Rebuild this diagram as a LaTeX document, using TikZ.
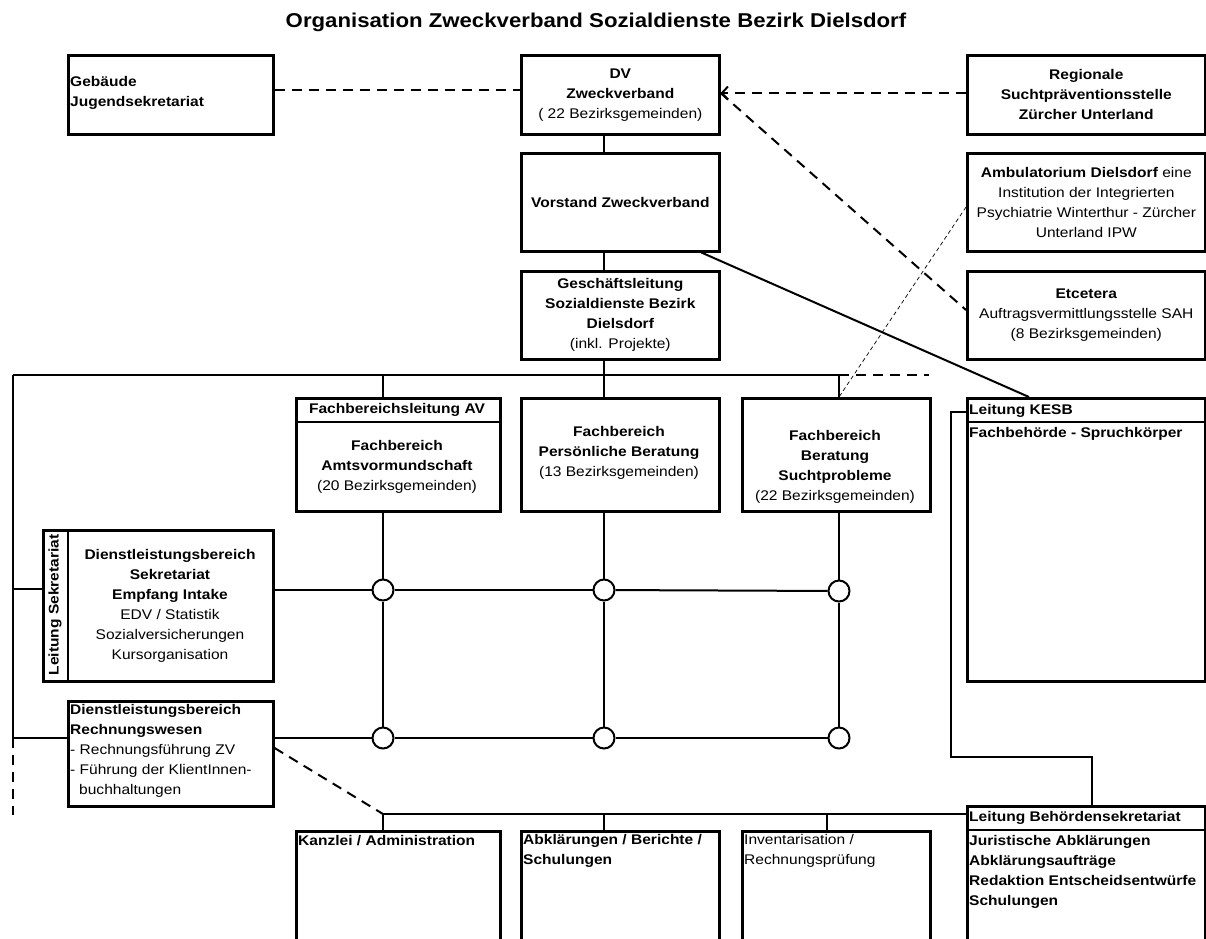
\documentclass[tikz,border=0pt]{standalone}
\usepackage{fontspec}
\setmainfont{Liberation Sans}[FakeStretch=1.11]
\usetikzlibrary{arrows.meta,calc}
\begin{document}
\begin{tikzpicture}[x=1pt,y=-1pt,
  every node/.style={font=\fontsize{14}{20}\selectfont, inner sep=0pt},
  bf/.style={font=\fontsize{14}{20}\selectfont\bfseries},
  box/.style={draw, line width=2.6pt, anchor=north west, inner sep=0pt, align=center},
  sep/.style={line width=2.6pt},
  ln/.style={line width=2pt},
  dsh/.style={line width=2pt, dash pattern=on 10pt off 7pt},
  thindsh/.style={line width=0.7pt, dash pattern=on 4pt off 3pt},
  junc/.style={circle, draw, fill=white, line width=2pt, minimum size=21pt, inner sep=0pt},
  ltxt/.style={align=left, anchor=west},
]
\useasboundingbox (0,0) rectangle (1206,938);
\clip (0,0) rectangle (1206,938);

% title
\node[font=\fontsize{20}{24}\selectfont\bfseries] (title) at (596,22) {Organisation Zweckverband Sozialdienste Bezirk Dielsdorf};

% top boxes
\node[box, minimum width=205pt, minimum height=79pt] (geb) at (67,54) {};
\node[ltxt, bf] (gebT) at (70,93) {Gebäude\\Jugendsekretariat};

\node[box, minimum width=198pt, minimum height=79pt] (dv) at (520,54)
  {\textbf{DV}\\\textbf{Zweckverband}\\( 22 Bezirksgemeinden)};
\node[box, minimum width=198pt, minimum height=98pt] (vst) at (520,152)
  {\textbf{Vorstand Zweckverband}};
\node[box, minimum width=198pt, minimum height=88pt] (gl) at (520,270)
  {\textbf{Geschäftsleitung}\\\textbf{Sozialdienste Bezirk}\\\textbf{Dielsdorf}\\(inkl. Projekte)};

\node[box, minimum width=238pt, minimum height=79pt] (reg) at (966,54)
  {\textbf{Regionale}\\\textbf{Suchtpräventionsstelle}\\\textbf{Zürcher Unterland}};
\node[box, minimum width=238pt, minimum height=98pt] (amb) at (966,152)
  {\textbf{Ambulatorium Dielsdorf} eine\\Institution der Integrierten\\Psychiatrie Winterthur - Zürcher\\Unterland IPW};
\node[box, minimum width=238pt, minimum height=88pt] (etc) at (966,270)
  {\textbf{Etcetera}\\Auftragsvermittlungsstelle SAH\\(8 Bezirksgemeinden)};

% Fachbereiche
\node[box, minimum width=204pt, minimum height=113pt] (fav) at (295,397) {};
\draw[sep] (fav.west |- 0,422) -- (fav.east |- 0,422);
\node[bf] (favH) at (397,410) {Fachbereichsleitung AV};
\node[align=center] (favT) at (397,467) {\textbf{Fachbereich}\\\textbf{Amtsvormundschaft}\\(20 Bezirksgemeinden)};

\node[box, minimum width=198pt, minimum height=113pt] (pb) at (520,397) {};
\node[align=center] (pbT) at (619,453) {\textbf{Fachbereich}\\\textbf{Persönliche Beratung}\\(13 Bezirksgemeinden)};

\node[box, minimum width=188pt, minimum height=113pt] (su) at (741,397) {};
\node[align=center] (suT) at (835,467) {\textbf{Fachbereich}\\\textbf{Beratung}\\\textbf{Suchtprobleme}\\(22 Bezirksgemeinden)};

% KESB
\node[box, minimum width=238pt, minimum height=283pt] (kesb) at (966,397) {};
\draw[sep] (kesb.west |- 0,422) -- (kesb.east |- 0,422);
\node[ltxt, bf] (kesbH) at (969,411) {Leitung KESB};
\node[ltxt, bf] (kesbT) at (969,434) {Fachbehörde - Spruchkörper};

% Sekretariat
\node[box, minimum width=230pt, minimum height=151pt] (ls) at (42,529) {};
\draw[sep] (68,0 |- ls.north) -- (68,0 |- ls.south);
\node[bf, rotate=90] (lsH) at (55,605) {Leitung Sekretariat};
\node[align=center] (lsT) at (170,606) {\textbf{Dienstleistungsbereich}\\\textbf{Sekretariat}\\\textbf{Empfang Intake}\\EDV / Statistik\\Sozialversicherungen\\Kursorganisation};

% Rechnungswesen
\node[box, minimum width=205pt, minimum height=105pt] (rw) at (67,700) {};
\node[ltxt] (rwT) at (70,751) {\textbf{Dienstleistungsbereich}\\\textbf{Rechnungswesen}\\- Rechnungsführung ZV\\- Führung der KlientInnen-\\\hspace*{9pt}buchhaltungen};

% bottom boxes
\node[box, minimum width=204pt, minimum height=130pt] (kz) at (295,830) {};
\node[ltxt, bf] (kzT) at (298,841) {Kanzlei / Administration};
\node[box, minimum width=198pt, minimum height=130pt] (ab) at (520,830) {};
\node[ltxt, bf] (abT) at (523,851) {Abklärungen / Berichte /\\Schulungen};
\node[box, minimum width=188pt, minimum height=130pt] (inv) at (741,830) {};
\node[ltxt] (invT) at (744,851) {Inventarisation /\\Rechnungsprüfung};
\node[box, minimum width=238pt, minimum height=150pt] (lbs) at (966,805) {};
\draw[sep] (lbs.west |- 0,830) -- (lbs.east |- 0,830);
\node[ltxt, bf] (lbsH) at (969,818) {Leitung Behördensekretariat};
\node[ltxt, bf] (lbsT) at (969,872) {Juristische Abklärungen\\Abklärungsaufträge\\Redaktion Entscheidsentwürfe\\Schulungen};

% coordinates
\coordinate (xa) at (383,0);
\coordinate (xb) at (604,0);
\coordinate (xc) at (839,0);
\coordinate (xd) at (827,0);
\coordinate (tl) at (13,375);
\coordinate (tr) at (839,375);
\coordinate (te) at (929,375);
\coordinate (ll1) at (13,589);
\coordinate (ll2) at (13,738);
\coordinate (lle) at (13,815);
\coordinate (b0) at (383,814);
\coordinate (k1) at (951,412);
\coordinate (k2) at (951,757);
\coordinate (k3) at (1092,757);
\coordinate (y90) at (0,90);
\coordinate (y93) at (0,93);
\coordinate (y310) at (0,310);
\coordinate (y207) at (0,207);
\coordinate (y748) at (0,748);

% main vertical chain
\draw[ln] (dv.south -| xb) -- (vst.north -| xb);
\draw[ln] (vst.south -| xb) -- (gl.north -| xb);
\draw[ln] (gl.south -| xb) -- (xb |- tl);
\draw[ln] (tl) -- (tr);
\draw[dsh] (tr) -- (te);
\draw[ln] (xa |- tl) -- (fav.north -| xa);
\draw[ln] (xb |- tl) -- (pb.north -| xb);
\draw[ln] (tr) -- (su.north -| xc);
\draw[ln] (tl) -- (ll2);
\draw[dsh] (ll2) -- (lle);
\draw[ln] (ll1) -- (ll1 -| ls.west);
\draw[ln] (ll2) -- (ll2 -| rw.west);

% matrix
\node[junc] (c11) at (383,590) {};
\node[junc] (c12) at (604,590) {};
\node[junc] (c13) at (839,591) {};
\node[junc] (c21) at (383,738) {};
\node[junc] (c22) at (604,738) {};
\node[junc] (c23) at (839,738) {};
\draw[ln] (c11 -| ls.east) -- (c11);
\draw[ln] (c11) -- (c12);
\draw[ln] (c12) -- (c13);
\draw[ln] (c21 -| rw.east) -- (c21);
\draw[ln] (c21) -- (c22);
\draw[ln] (c22) -- (c23);
\draw[ln] (fav.south -| c11) -- (c11);
\draw[ln] (c11) -- (c21);
\draw[ln] (pb.south -| c12) -- (c12);
\draw[ln] (c12) -- (c22);
\draw[ln] (su.south -| c13) -- (c13);
\draw[ln] (c13) -- (c23);

% KESB connector
\draw[ln] (k1 -| kesb.west) -- (k1) -- (k2) -- (k3) -- (k3 |- lbs.north);

% bottom connectors
\draw[ln] (b0) -- (b0 -| lbs.west);
\draw[ln] (b0) -- (kz.north -| b0);
\draw[ln] (xb |- b0) -- (ab.north -| xb);
\draw[ln] (xd |- b0) -- (inv.north -| xd);
\draw[dsh] (rw.east |- y748) -- (b0);

% Vorstand to KESB
\draw[ln] ($(vst.south east)+(-19,0)$) -- ($(kesb.north west)+(63,0)$);

% dashed relations
\draw[dsh] (geb.east |- y90) -- (dv.west |- y90);
\draw[dsh, -{Straight Barb[length=6pt,width=13pt,line width=2pt]}] (reg.west |- y93) -- (dv.east |- y93);
\draw[dsh] (dv.east |- y93) -- (etc.west |- y310);
\draw[thindsh] (amb.west |- y207) -- (su.north -| xc);
\end{tikzpicture}
\end{document}
